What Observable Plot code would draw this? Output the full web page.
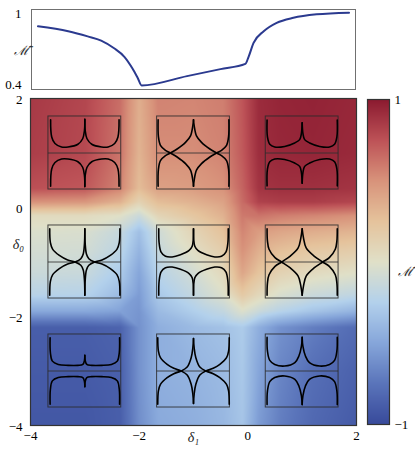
<!DOCTYPE html>
<html><head><meta charset="utf-8">
<script src="https://cdn.jsdelivr.net/npm/d3@7"></script>
<script src="https://cdn.jsdelivr.net/npm/@observablehq/plot@0.6"></script>
<style>
body{margin:0;background:#fff;}
#wrap{position:relative;width:415px;height:450px;}
#wrap svg{position:absolute;left:0;top:0;overflow:visible;}
</style></head><body><div id="wrap"></div>
<script>
// ---- top panel cut: M-bar versus delta1 ----
const cutDelta1 = [-3.88,-3.32,-2.96,-2.71,-2.47,-2.28,-2.13,-2.035,-1.96,-1.12,-0.5,-0.04,0.02,0.11,0.30,0.54,0.85,1.28,1.88];
const cutM      = [0.908,0.866,0.823,0.788,0.723,0.651,0.552,0.474,0.409,0.488,0.547,0.591,0.651,0.766,0.866,0.937,0.980,1.009,1.023];
const cutTicks = [0.4, 1];

// ---- heat map samples (delta1 columns, delta0 rows) ----
const heatDelta1 = [-4, -3, -2.35, -2.0, -1.65, -1, -0.45, -0.1, 0.2, 0.6, 1.2, 2];
const heatDelta0 = [2, 1, 0.35, 0.1, -0.15, -0.45, -0.8, -1.2, -1.6, -1.9, -2.2, -3, -4];
const heatM = [
  [0.86, 0.80, 0.64, 0.36, 0.56, 0.55, 0.58, 0.74, 0.92, 0.95, 0.96, 0.94],
  [0.84, 0.79, 0.62, 0.33, 0.52, 0.52, 0.56, 0.72, 0.91, 0.94, 0.95, 0.93],
  [0.76, 0.73, 0.56, 0.28, 0.43, 0.45, 0.50, 0.68, 0.88, 0.90, 0.90, 0.88],
  [0.50, 0.48, 0.34, 0.12, 0.28, 0.34, 0.42, 0.65, 0.82, 0.84, 0.84, 0.80],
  [0.05, 0.05, 0.00,-0.12, 0.10, 0.22, 0.34, 0.60, 0.62, 0.58, 0.55, 0.50],
  [-0.03,-0.04,-0.15,-0.35,-0.10, 0.10, 0.25, 0.55, 0.45, 0.40, 0.36, 0.32],
  [-0.07,-0.08,-0.20,-0.42,-0.15, 0.02, 0.16, 0.50, 0.35, 0.26, 0.20, 0.16],
  [-0.12,-0.13,-0.28,-0.50,-0.22,-0.08, 0.07, 0.40, 0.24, 0.12, 0.05, 0.00],
  [-0.22,-0.23,-0.38,-0.55,-0.30,-0.16,-0.02, 0.20, 0.08,-0.04,-0.12,-0.18],
  [-0.48,-0.48,-0.52,-0.58,-0.38,-0.26,-0.16,-0.02,-0.12,-0.22,-0.32,-0.42],
  [-0.88,-0.88,-0.85,-0.60,-0.45,-0.38,-0.34,-0.28,-0.45,-0.60,-0.70,-0.80],
  [-0.90,-0.90,-0.87,-0.60,-0.45,-0.42,-0.38,-0.30,-0.50,-0.66,-0.78,-0.86],
  [-0.92,-0.92,-0.88,-0.62,-0.48,-0.45,-0.40,-0.32,-0.55,-0.70,-0.82,-0.90]
];
const axisTicks = [-4, -2, 0, 2];
const colorStops = ["#384a9b","#5a74ba","#86a6da","#b3d1ec","#e0e0c8","#e5c39c","#d8937b","#bd5257","#8b1a30"];

// ---- insets: centres and one quarter of each band curve (u in [0,0.5], v in box half-heights) ----
const insetDelta1 = [-3, -1, 1, -3, -1, 1, -3, -1, 1];
const insetDelta0 = [1, 1, 1, -1, -1, -1, -3, -3, -3];
const bandTL = [[0.03,0.91],[0.045,0.44],[0.09,0.26],[0.18,0.165],[0.27,0.165],[0.405,0.24],[0.47,0.39],[0.495,0.62],[0.5,0.92]];
const bandTC = [[0.014,0.91],[0.018,0.45],[0.046,0.21],[0.115,0.073],[0.183,0],[0.275,-0.109],[0.39,-0.29],[0.459,-0.47],[0.491,-0.75],[0.5,-0.91]];
const bandTR = [[0.018,0.9],[0.023,0.44],[0.055,0.24],[0.123,0.165],[0.26,0.18],[0.397,0.275],[0.466,0.367],[0.489,0.53],[0.5,0.83]];
const bandML = [[0.018,0.91],[0.027,0.53],[0.059,0.345],[0.15,0.18],[0.264,0.055],[0.364,0],[0.445,-0.09],[0.478,-0.22],[0.495,-0.5],[0.5,-0.91]];
const bandMC = [[0.023,0.91],[0.028,0.52],[0.055,0.27],[0.115,0.156],[0.206,0.138],[0.321,0.2],[0.436,0.31],[0.482,0.43],[0.5,0.91]];
const bandMR = [[0.018,0.91],[0.023,0.58],[0.045,0.35],[0.127,0.12],[0.218,0],[0.332,-0.156],[0.445,-0.385],[0.482,-0.66],[0.5,-0.91]];
const bandBL = [[0.023,0.91],[0.027,0.5],[0.054,0.27],[0.135,0.18],[0.27,0.155],[0.405,0.155],[0.473,0.18],[0.495,0.29],[0.5,0.43]];
const bandBC = [[0.009,0.91],[0.018,0.545],[0.046,0.364],[0.138,0.18],[0.229,0.073],[0.33,0],[0.413,-0.109],[0.468,-0.364],[0.491,-0.636],[0.5,-0.89]];
const bandBR = [[0.018,0.92],[0.023,0.55],[0.055,0.29],[0.123,0.18],[0.26,0.136],[0.4,0.23],[0.455,0.41],[0.49,0.68],[0.5,0.92]];
const bandCurves = [bandTL, bandTC, bandTR, bandML, bandMC, bandMR, bandBL, bandBC, bandBR];

// ---- build tables ----
const H = 0.67;
const fmt = d => d < 0 ? "\u2212" + (-d) : String(d);
const font = {fontFamily: "'Liberation Serif', 'DejaVu Serif', serif", fontSize: "13px", background: "transparent"};
const mFont = "'DejaVu Serif', 'Liberation Serif', serif";
const colorOpts = {type: "linear", domain: [-1, 1], interpolate: d3.piecewise(d3.interpolateRgb, colorStops)};

const cut = cutDelta1.map((x, i) => ({x, m: cutM[i]}));
const heat = [];
heatDelta0.forEach((y, j) => heatDelta1.forEach((x, i) => heat.push({x, y, v: heatM[j][i]})));
const insets = insetDelta1.map((cx, i) => ({cx, cy: insetDelta0[i]}));
const bands = [];
bandCurves.forEach((curve, i) => {
  const {cx, cy} = insets[i];
  for (const sx of [0, 1]) for (const sy of [1, -1]) {
    for (const [u, v] of curve) {
      const uu = sx ? 1 - u : u;
      bands.push({x: cx + (uu - 0.5) * 2 * H, y: cy + sy * v * H, z: `${i}-${sx}-${sy}`});
    }
  }
});

const wrap = document.getElementById("wrap");

// top panel
wrap.append(Plot.plot({
  width: 415, height: 100,
  marginLeft: 31, marginRight: 60, marginTop: 9, marginBottom: 11,
  style: font,
  x: {domain: [-4, 2], axis: null},
  y: {domain: [0.375, 1.05], axis: null},
  marks: [
    Plot.frame({stroke: "#707070"}),
    Plot.axisY({ticks: cutTicks, tickSize: 0, tickPadding: 10, dy: -1.5, label: null, tickFormat: d => String(d)}),
    Plot.line(cut, {x: "x", y: "m", curve: "monotone-x", stroke: "#2b3a8f", strokeWidth: 2}),
    Plot.text(["\u2133\u0304"], {frameAnchor: "left", x: -4, y: 0.7, dx: -18, fontStyle: "italic", fontSize: 13, fontFamily: mFont, fill: "#222"})
  ]
}));

// main heat map
wrap.append(Plot.plot({
  width: 415, height: 450,
  marginLeft: 30, marginRight: 59, marginTop: 98, marginBottom: 25,
  style: font,
  x: {domain: [-4, 2], axis: null},
  y: {domain: [-4, 2], axis: null},
  color: colorOpts,
  marks: [
    Plot.raster(heat, {x: "x", y: "y", fill: "v", interpolate: "barycentric", x1: -4, x2: 2, y1: -4, y2: 2}),
    Plot.ruleY(insets, {y: "cy", x1: d => d.cx - H, x2: d => d.cx + H, stroke: "#333", strokeOpacity: 0.85, strokeWidth: 1}),
    Plot.rect(insets, {x1: d => d.cx - H, x2: d => d.cx + H, y1: d => d.cy - H, y2: d => d.cy + H, fill: "none", stroke: "#2a2a2a", strokeOpacity: 0.85, strokeWidth: 1}),
    Plot.line(bands, {x: "x", y: "y", z: "z", curve: "catmull-rom", stroke: "black", strokeWidth: 1.6}),
    Plot.frame({stroke: "#333", strokeWidth: 1.2}),
    Plot.axisX({ticks: axisTicks, tickSize: 0, tickPadding: 5, label: null, tickFormat: fmt}),
    Plot.axisY({ticks: axisTicks, tickSize: 0, tickPadding: 8, dy: 1.5, label: null, tickFormat: fmt}),
    Plot.text(["\u03b4\u2081"], {x: -1, y: -4, dy: 12, fontStyle: "italic", fontSize: 14, fill: "#222"}),
    Plot.text(["\u03b4\u2080"], {x: -4, y: -0.68, dx: -12, fontStyle: "italic", fontSize: 14, fill: "#222"})
  ]
}));

// colour bar
wrap.append(Plot.plot({
  width: 415, height: 450,
  marginLeft: 367, marginRight: 26, marginTop: 99, marginBottom: 26,
  style: font,
  x: {domain: [0, 1], axis: null},
  y: {domain: [-1, 1], axis: null},
  color: colorOpts,
  marks: [
    Plot.raster({fill: (x, y) => y, x1: 0, x2: 1, y1: -1, y2: 1}),
    Plot.frame({stroke: "#333", strokeWidth: 1.2}),
    Plot.axisY({anchor: "right", ticks: [-1, 1], tickSize: 0, tickPadding: 5, label: null, tickFormat: fmt}),
    Plot.text(["\u2133\u0304"], {x: 1, y: -0.06, dx: 8, textAnchor: "start", fontStyle: "italic", fontSize: 13, fontFamily: mFont, fill: "#222"})
  ]
}));
</script></body></html>
